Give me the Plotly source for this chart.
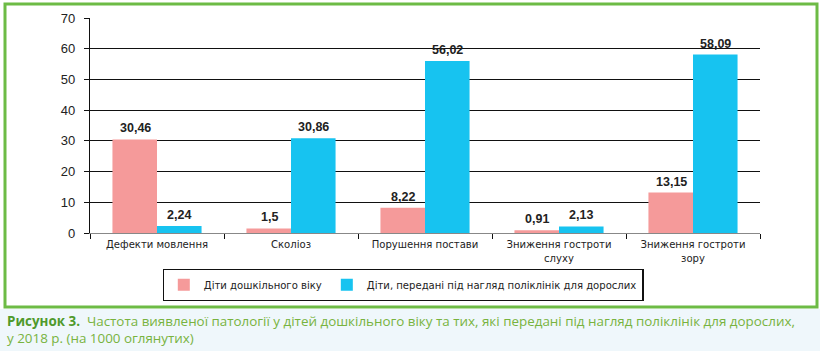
import plotly.graph_objects as go

categories = ["Дефекти мовлення", "Сколіоз", "Порушення постави",
              "Зниження гостроти<br>слуху", "Зниження гостроти<br>зору"]
preschool = [30.46, 1.5, 8.22, 0.91, 13.15]
transferred = [2.24, 30.86, 56.02, 2.13, 58.09]
series_names = ["Діти дошкільного віку", "Діти, передані під нагляд поліклінік для дорослих"]
y_ticks = [0, 10, 20, 30, 40, 50, 60, 70]

W, H = 820, 351
L, R, T, B = 90, 760, 18, 233

def px(x):
    return (x - L) / (R - L)

def py(y):
    return (B - y) / (B - T)

def fmt(v):
    return str(v).replace(".", ",")

PINK = "#f59a9a"
BLUE = "#17c3f0"
NARROW = "Liberation Sans Narrow, Arial Narrow, DejaVu Sans Condensed, Liberation Sans"

fig = go.Figure()
fig.add_trace(go.Bar(x=categories, y=preschool, name=series_names[0],
                     marker=dict(color=PINK, line=dict(width=0))))
fig.add_trace(go.Bar(x=categories, y=transferred, name=series_names[1],
                     marker=dict(color=BLUE, line=dict(width=0))))

annotations = []
for c, v in zip(categories, preschool):
    annotations.append(dict(x=c, y=v, xref="x", yref="y", text="<b>" + fmt(v) + "</b>",
                            showarrow=False, xshift=-22, yanchor="bottom", yshift=2,
                            font=dict(family="Liberation Sans, Arial", size=12.5, color="#222")))
for c, v in zip(categories, transferred):
    annotations.append(dict(x=c, y=v, xref="x", yref="y", text="<b>" + fmt(v) + "</b>",
                            showarrow=False, xshift=22, yanchor="bottom", yshift=2,
                            font=dict(family="Liberation Sans, Arial", size=12.5, color="#222")))

annotations.append(dict(
    x=px(5), y=py(329), xref="paper", yref="paper", xanchor="left", yanchor="middle",
    align="left", showarrow=False,
    text="<b><span style='color:#4f9a2c'>Рисунок 3.</span></b>  Частота виявленої патології у дітей дошкільного віку та тих, які передані під нагляд поліклінік для дорослих,<br>у 2018 р. (на 1000 оглянутих)",
    font=dict(family="Open Sans", size=13.4, color="#78b33e")))

shapes = [
    dict(type="rect", xref="paper", yref="paper", x0=px(-5), x1=px(830), y0=py(309), y1=py(360),
         fillcolor="#eff7fb", line=dict(width=0), layer="below"),
    dict(type="rect", xref="paper", yref="paper", x0=px(5), x1=px(817), y0=py(307), y1=py(4),
         fillcolor="rgba(0,0,0,0)", line=dict(color="#6dbb45", width=3), layer="above"),
]

fig.update_layout(
    width=W, height=H,
    margin=dict(l=L, r=W - R, t=T, b=H - B, pad=0, autoexpand=False),
    paper_bgcolor="white", plot_bgcolor="white",
    barmode="group", bargap=0.335, bargroupgap=0,
    showlegend=True,
    legend=dict(orientation="h", xref="container", yref="container",
                x=403 / W, y=1 - 285 / H, xanchor="center", yanchor="middle",
                bordercolor="#111", borderwidth=1.3, bgcolor="white",
                font=dict(family=NARROW, size=11.2, color="#222"),
                itemwidth=30, tracegroupgap=0),
    yaxis=dict(range=[0, 70], tickvals=y_ticks, showgrid=True, gridcolor="#111", gridwidth=1.3,
               showline=True, linecolor="#111", linewidth=1.3, ticks="outside", ticklen=5,
               tickcolor="#111", zeroline=False, automargin=False, ticklabelstandoff=6,
               tickfont=dict(family="Liberation Sans, Arial", size=13, color="#222")),
    xaxis=dict(showline=True, linecolor="#888", linewidth=1.3, ticks="outside", ticklen=5,
               tickcolor="#111", tickson="boundaries", automargin=False,
               tickfont=dict(family=NARROW, size=11.2, color="#222")),
    annotations=annotations,
    shapes=shapes,
)

fig.write_html("out.html")
